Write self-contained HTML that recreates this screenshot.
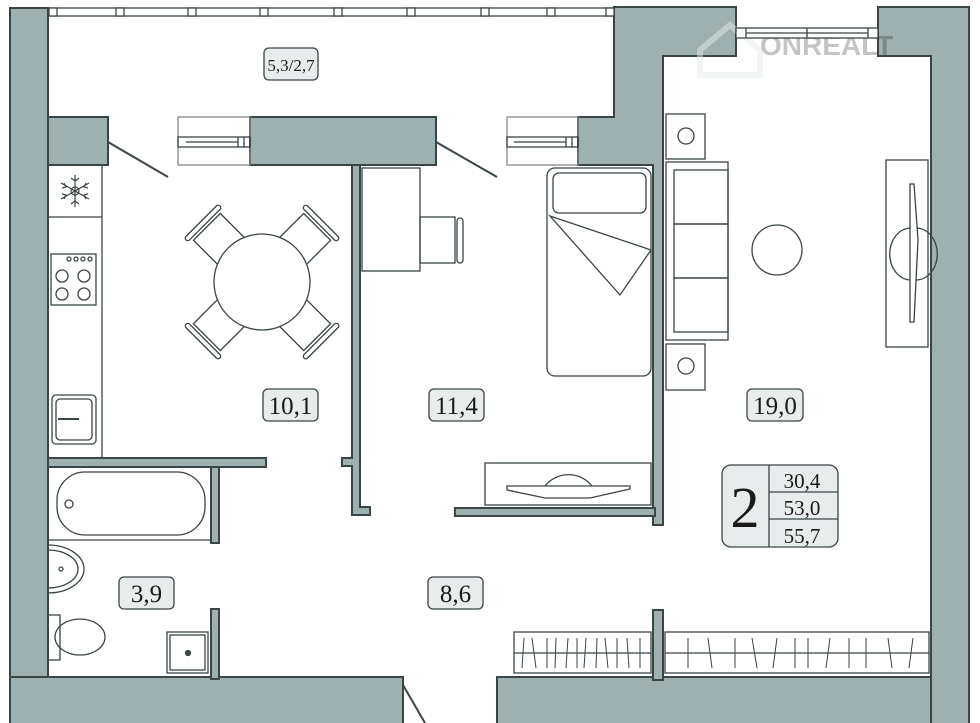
<!DOCTYPE html>
<html><head><meta charset="utf-8"><style>
html,body{margin:0;padding:0;background:#fff;}
svg{display:block;}
text{font-family:"Liberation Serif",serif;fill:#1a1a1a;}
</style></head><body>
<svg width="980" height="723" viewBox="0 0 980 723" xmlns="http://www.w3.org/2000/svg">
<g fill="#9fb0b0" stroke="#3a4545" stroke-width="2">
  <rect x="10" y="8" width="38" height="720"/>
  <rect x="10" y="677" width="393" height="50"/>
  <rect x="497" y="677" width="472" height="50"/>
  <path d="M878 7 H969 V727 H931 V56 H878 Z"/>
  <path d="M614 7 H736 V56 H663 V525 H653 V165 H578 V117 H614 Z"/>
  <rect x="653" y="610" width="10" height="70"/>
  <rect x="48" y="117" width="60" height="48"/>
  <rect x="250" y="117" width="186" height="48"/>
  <path d="M352 165 H360 V507 H370 V515 H352 V466 H342 V458 H352 Z"/>
  <rect x="455" y="508" width="200" height="8"/>
  <rect x="48" y="458" width="218" height="9"/>
  <rect x="211" y="467" width="8" height="76"/>
  <rect x="211" y="609" width="8" height="70"/>
</g>
<!-- watermark -->
<g fill="none" stroke="#e4e9e9" stroke-width="6" opacity="0.5">
  <path d="M700 50 L730 25 L760 50 V75 H700 Z"/>
</g>
<text x="760" y="55" font-size="28" font-weight="bold" fill="#c7d0d0" opacity="0.25" style="font-family:'Liberation Sans',sans-serif">ONREALT</text>
<g fill="none" stroke="#3a4545" stroke-width="1.3">
  <rect x="48" y="8" width="566" height="8" fill="#fff"/>
  <g fill="#fff">
  <rect x="49" y="8" width="8" height="8"/><rect x="116" y="8" width="8" height="8"/><rect x="188" y="8" width="8" height="8"/><rect x="260" y="8" width="8" height="8"/><rect x="334" y="8" width="8" height="8"/><rect x="407" y="8" width="8" height="8"/><rect x="481" y="8" width="8" height="8"/><rect x="547" y="8" width="8" height="8"/><rect x="606" y="8" width="8" height="8"/>
  </g>
  <rect x="736" y="28" width="142" height="10" fill="#fff"/>
  <line x1="746" y1="28" x2="746" y2="38"/><line x1="868" y1="28" x2="868" y2="38"/><line x1="807" y1="28" x2="807" y2="38"/>
  <line x1="746" y1="33" x2="868" y2="33"/>
  <rect x="178" y="117" width="72" height="48" stroke="#888"/>
  <rect x="178" y="137" width="72" height="10"/><line x1="186" y1="142" x2="238" y2="142"/><line x1="238" y1="137" x2="238" y2="147"/><line x1="244" y1="137" x2="244" y2="147"/>
  <rect x="507" y="117" width="71" height="48" stroke="#888"/>
  <rect x="507" y="137" width="71" height="10"/><line x1="514" y1="142" x2="566" y2="142"/><line x1="566" y1="137" x2="566" y2="147"/><line x1="572" y1="137" x2="572" y2="147"/>
  <line x1="108" y1="142" x2="168" y2="177" stroke-width="2"/>
  <line x1="436" y1="142" x2="497" y2="177" stroke-width="2"/>
  <line x1="403" y1="685" x2="425" y2="723" stroke-width="2"/>
  <line x1="102" y1="165" x2="102" y2="458"/>
  <line x1="48" y1="217" x2="102" y2="217"/>
  <rect x="51" y="254" width="45" height="51"/>
  <circle cx="62" cy="276" r="6"/><circle cx="84" cy="276" r="6"/><circle cx="62" cy="294" r="6"/><circle cx="84" cy="294" r="6"/>
  <circle cx="69" cy="259" r="2"/><circle cx="76" cy="259" r="2"/><circle cx="83" cy="259" r="2"/><circle cx="90" cy="259" r="2"/>
  <rect x="52" y="395" width="44" height="49" rx="4"/><rect x="56" y="399" width="36" height="41" rx="4"/>
  <line x1="58" y1="419" x2="79" y2="419" stroke-width="2"/>
  <g stroke-width="1.2"><circle cx="75" cy="191" r="4"/>
  <line x1="75" y1="175" x2="75" y2="207"/><line x1="61" y1="183" x2="89" y2="199"/><line x1="61" y1="199" x2="89" y2="183"/>
  <path d="M71 178 L75 181 L79 178 M71 204 L75 201 L79 204 M62 188 L66 187 L64 183 M88 188 L84 187 L86 183 M62 194 L66 195 L64 199 M88 194 L84 195 L86 199"/></g>
  <g transform="translate(262,282)">
    <g transform="rotate(-45)"><rect x="-19" y="-78" width="38" height="36"/><rect x="-24" y="-86" width="48" height="5" rx="2.5"/></g>
    <g transform="rotate(45)"><rect x="-19" y="-78" width="38" height="36"/><rect x="-24" y="-86" width="48" height="5" rx="2.5"/></g>
    <g transform="rotate(135)"><rect x="-19" y="-78" width="38" height="36"/><rect x="-24" y="-86" width="48" height="5" rx="2.5"/></g>
    <g transform="rotate(225)"><rect x="-19" y="-78" width="38" height="36"/><rect x="-24" y="-86" width="48" height="5" rx="2.5"/></g>
  </g>
  <circle cx="262" cy="282" r="48" fill="#fff"/>
  <rect x="362" y="168" width="58" height="103"/>
  <rect x="420" y="217" width="35" height="46"/>
  <rect x="457" y="218" width="6" height="45" rx="3"/>
  <rect x="547" y="168" width="104" height="208" rx="8"/>
  <rect x="553" y="173" width="93" height="40" rx="6"/>
  <path d="M550 216 L651 250 L620 295 Z"/>
  <rect x="485" y="463" width="166" height="42"/>
  <path d="M545 486 A30 30 0 0 1 592 486"/>
  <path d="M507 486 H630 V489 L590 498 H545 L507 490 Z" fill="#fff"/>
  <rect x="666" y="114" width="39" height="45"/><circle cx="686" cy="136" r="8"/>
  <rect x="666" y="162" width="62" height="178"/>
  <rect x="674" y="170" width="54" height="54"/><rect x="674" y="224" width="54" height="54"/><rect x="674" y="278" width="54" height="54"/>
  <rect x="666" y="344" width="39" height="46"/><circle cx="686" cy="366" r="8"/>
  <circle cx="777" cy="250" r="25"/>
  <rect x="886" y="160" width="42" height="187"/>
  <path d="M911 228 A18 22 0 0 0 911 280"/><path d="M916 228 A18 22 0 0 1 916 280"/>
  <path d="M910 184 H914 L918 240 L914 322 H910 Z" fill="#fff"/>
  <rect x="514" y="632" width="137" height="41"/><line x1="514" y1="653" x2="651" y2="653"/>
  <g stroke-width="1"><line x1="524" y1="638" x2="522" y2="668"/><line x1="532" y1="638" x2="536" y2="668"/><line x1="547" y1="638" x2="547" y2="668"/><line x1="556" y1="638" x2="555" y2="668"/><line x1="568" y1="638" x2="566" y2="668"/><line x1="577" y1="638" x2="577" y2="668"/><line x1="586" y1="638" x2="584" y2="668"/><line x1="597" y1="638" x2="596" y2="668"/><line x1="605" y1="638" x2="608" y2="668"/><line x1="617" y1="638" x2="617" y2="668"/><line x1="627" y1="638" x2="629" y2="668"/><line x1="640" y1="638" x2="640" y2="668"/></g>
  <rect x="665" y="632" width="264" height="41"/><line x1="665" y1="653" x2="929" y2="653"/>
  <g stroke-width="1"><line x1="688" y1="638" x2="688" y2="668"/><line x1="708" y1="638" x2="712" y2="668"/><line x1="735" y1="638" x2="735" y2="668"/><line x1="752" y1="638" x2="757" y2="668"/><line x1="777" y1="638" x2="773" y2="668"/><line x1="795" y1="638" x2="795" y2="668"/><line x1="808" y1="638" x2="808" y2="668"/><line x1="830" y1="638" x2="826" y2="668"/><line x1="849" y1="638" x2="849" y2="668"/><line x1="866" y1="638" x2="866" y2="668"/><line x1="888" y1="638" x2="892" y2="668"/><line x1="913" y1="638" x2="909" y2="668"/></g>
  <line x1="48" y1="540" x2="211" y2="540"/>
  <rect x="57" y="472" width="148" height="63" rx="28"/>
  <circle cx="69" cy="504" r="4"/>
  <path d="M48 545 A36 24 0 0 1 48 593"/>
  <path d="M48 550 A30 19 0 0 1 48 588"/>
  <circle cx="61" cy="569" r="2"/>
  <rect x="48" y="615" width="12" height="45"/>
  <ellipse cx="80" cy="637" rx="25" ry="18"/>
  <rect x="167" y="632" width="41" height="41"/><rect x="170" y="635" width="35" height="35"/>
  <circle cx="188" cy="653" r="2.5" fill="#3a4545"/>
</g>
<g fill="#e8ecec" stroke="#3a4545" stroke-width="1.3">
  <rect x="264" y="48" width="54" height="32" rx="5"/>
  <rect x="263" y="389" width="55" height="32" rx="5"/>
  <rect x="429" y="389" width="55" height="32" rx="5"/>
  <rect x="119" y="577" width="55" height="32" rx="5"/>
  <rect x="428" y="577" width="55" height="32" rx="5"/>
  <rect x="747" y="389" width="56" height="32" rx="5"/>
  <rect x="722" y="465" width="116" height="82" rx="9"/>
  <line x1="769" y1="465" x2="769" y2="547"/>
  <line x1="769" y1="492" x2="838" y2="492"/>
  <line x1="769" y1="519" x2="838" y2="519"/>
</g>
<g text-anchor="middle">
  <text x="291" y="71" font-size="17">5,3/2,7</text>
  <text x="290.5" y="414" font-size="25">10,1</text>
  <text x="456.5" y="414" font-size="25">11,4</text>
  <text x="146.5" y="602" font-size="25">3,9</text>
  <text x="455.5" y="602" font-size="25">8,6</text>
  <text x="775" y="414" font-size="25">19,0</text>
  <text x="745" y="527" font-size="58">2</text>
  <text x="802" y="488" font-size="21">30,4</text>
  <text x="802" y="515" font-size="21">53,0</text>
  <text x="802" y="543" font-size="21">55,7</text>
</g>
</svg>
</body></html>
